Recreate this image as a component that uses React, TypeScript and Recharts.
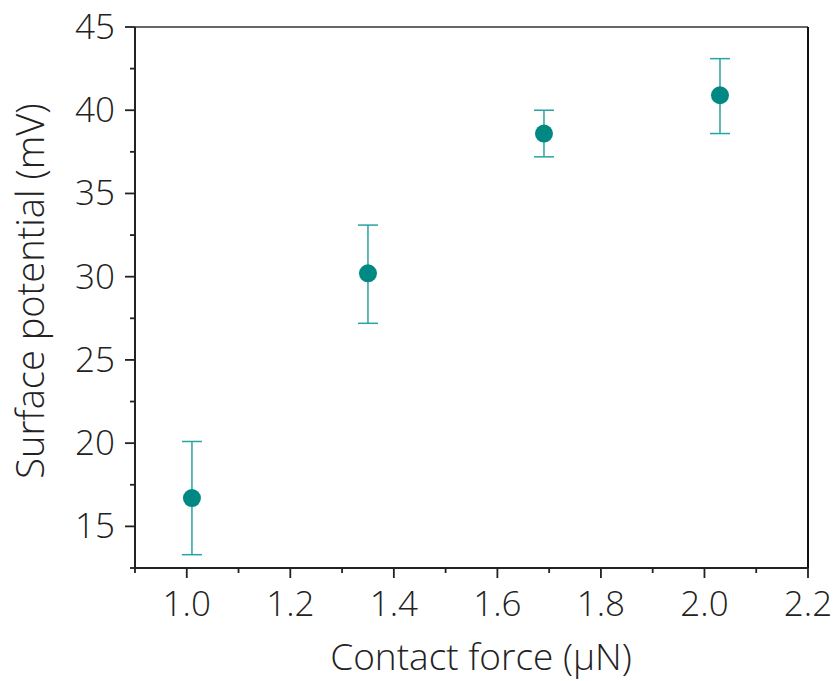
import {
  ComposedChart,
  ErrorBar,
  ReferenceLine,
  Scatter,
  XAxis,
  YAxis,
} from "recharts";

// contact force (µN), surface potential (mV) with error range
const force = [1.01, 1.35, 1.69, 2.03];
const potential = [16.7, 30.2, 38.6, 40.9];
const potentialLow = [13.3, 27.2, 37.2, 38.6];
const potentialHigh = [20.1, 33.1, 40.0, 43.1];

const xTicks = [0.9, 1.0, 1.1, 1.2, 1.3, 1.4, 1.5, 1.6, 1.7, 1.8, 1.9, 2.0, 2.1, 2.2];
const yTicks = [12.5, 15, 17.5, 20, 22.5, 25, 27.5, 30, 32.5, 35, 37.5, 40, 42.5, 45];

const data = force.map((f, i) => ({
  force: f,
  potential: potential[i],
  err: [potential[i] - potentialLow[i], potentialHigh[i] - potential[i]],
}));

const FONT = "'Open Sans', 'Segoe UI', sans-serif";
const INK = "#222";

function XTick(props: any) {
  const { x, y, payload } = props;
  const v = payload.value as number;
  const major = Math.round(v * 10) % 2 === 0;
  return (
    <g>
      <line x1={x} x2={x} y1={y} y2={y + (major ? 10 : 5)} stroke={INK} strokeWidth={1.8} />
      {major && (
        <text
          x={x}
          y={y + 48}
          textAnchor="middle"
          fontFamily={FONT}
          fontWeight={300}
          fontSize={35}
          fill={INK}
        >
          {v.toFixed(1)}
        </text>
      )}
    </g>
  );
}

function YTick(props: any) {
  const { x, y, payload } = props;
  const v = payload.value as number;
  const major = v % 5 === 0;
  return (
    <g>
      <line x1={x} x2={x - (major ? 10 : 5)} y1={y} y2={y} stroke={INK} strokeWidth={1.8} />
      {major && (
        <text
          x={x - 20}
          y={y + 12}
          textAnchor="end"
          fontFamily={FONT}
          fontWeight={300}
          fontSize={35}
          fill={INK}
        >
          {v}
        </text>
      )}
    </g>
  );
}

export default function App() {
  return (
    <div style={{ width: 831, height: 673 }}>
      <ComposedChart
        width={831}
        height={673}
        data={data}
        margin={{ top: 19, right: 31, left: 0, bottom: 1 }}
      >
        <XAxis
          dataKey="force"
          type="number"
          domain={[0.9, 2.2]}
          ticks={xTicks}
          interval={0}
          height={112}
          tickSize={0}
          tickMargin={0}
          tickLine={false}
          tick={<XTick />}
          axisLine={{ stroke: INK, strokeWidth: 2 }}
          label={{
            content: () => (
              <text
                x={473}
                y={662}
                textAnchor="middle"
                fontFamily={FONT}
                fontWeight={300}
                fontSize={37}
                fill={INK}
              >
                Contact force (μN)
              </text>
            ),
          }}
        />
        <YAxis
          dataKey="potential"
          type="number"
          domain={[12.5, 45]}
          ticks={yTicks}
          interval={0}
          width={127}
          tickSize={0}
          tickMargin={0}
          tickLine={false}
          tick={<YTick />}
          axisLine={{ stroke: INK, strokeWidth: 2 }}
          label={{
            content: () => (
              <text
                x={36}
                y={283}
                transform="rotate(-90, 36, 283)"
                textAnchor="middle"
                fontFamily={FONT}
                fontWeight={300}
                fontSize={38}
                fill={INK}
              >
                Surface potential (mV)
              </text>
            ),
          }}
        />
        <ReferenceLine y={45} stroke="#333" strokeWidth={1.5} />
        <ReferenceLine x={2.2} stroke="#111" strokeWidth={2} />
        <Scatter
          dataKey="potential"
          fill="#008984"
          isAnimationActive={false}
          shape={(p: any) => <circle cx={p.cx} cy={p.cy} r={9} fill="#008984" />}
        >
          <ErrorBar
            dataKey="err"
            direction="y"
            width={10}
            stroke="#2aa3a3"
            strokeWidth={1.5}
            isAnimationActive={false}
          />
        </Scatter>
      </ComposedChart>
    </div>
  );
}
